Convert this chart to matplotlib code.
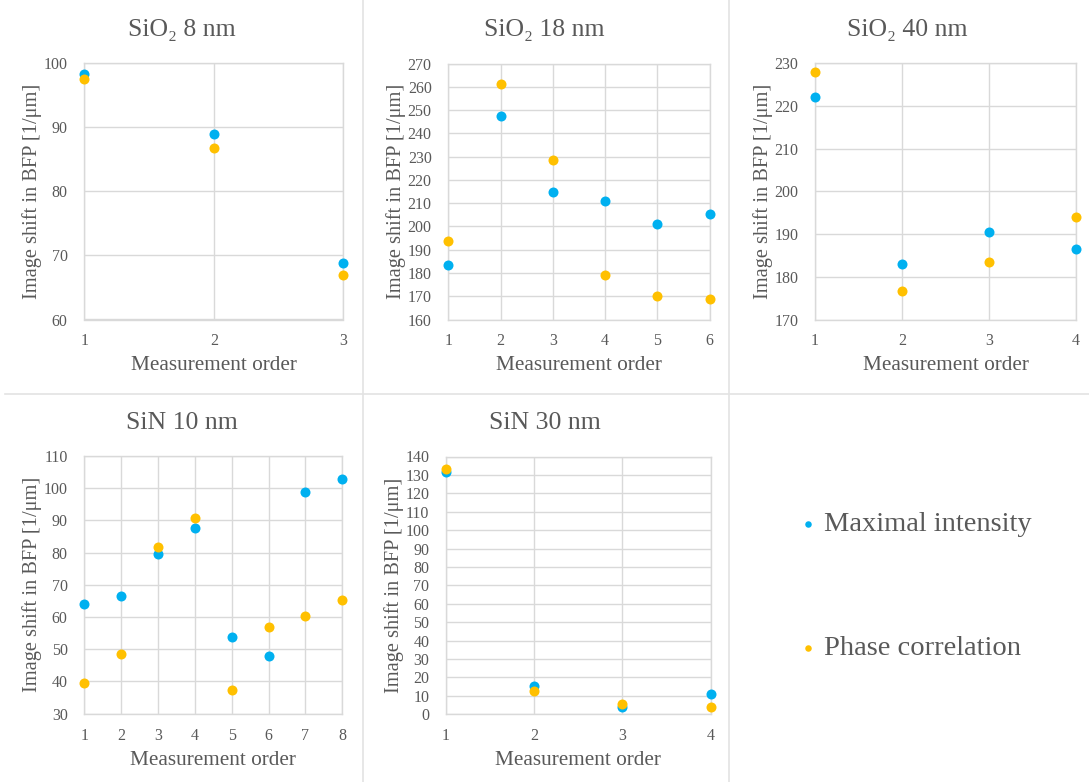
import matplotlib
matplotlib.use("Agg")
import matplotlib.pyplot as plt
from matplotlib.lines import Line2D

plt.rcParams['font.family'] = ['Liberation Serif', 'DejaVu Serif']

TEXT = '#595959'
GRID = '#D9D9D9'
BLUE = '#00B0F0'
GOLD = '#FFC000'

# Measurement series per sample
titles = ['SiO\u2082 8 nm', 'SiO\u2082 18 nm', 'SiO\u2082 40 nm', 'SiN 10 nm', 'SiN 30 nm']

sio2_8_max = [98.3, 89.0, 68.8]
sio2_8_phase = [97.6, 86.7, 66.9]

sio2_18_max = [183.6, 247.6, 214.8, 210.8, 201.2, 205.2]
sio2_18_phase = [193.8, 261.3, 228.5, 179.0, 170.0, 168.9]

sio2_40_max = [222.0, 183.1, 190.5, 186.5]
sio2_40_phase = [227.9, 176.6, 183.4, 193.9]

sin_10_max = [64.1, 66.4, 79.5, 87.7, 53.7, 48.0, 98.8, 103.0]
sin_10_phase = [39.4, 48.5, 81.9, 90.7, 37.4, 57.0, 60.3, 65.2]

sin_30_max = [131.5, 15.1, 4.0, 11.2]
sin_30_phase = [133.3, 12.4, 5.4, 4.1]

series_max = [sio2_8_max, sio2_18_max, sio2_40_max, sin_10_max, sin_30_max]
series_phase = [sio2_8_phase, sio2_18_phase, sio2_40_phase, sin_10_phase, sin_30_phase]

y_limits = [(60, 100), (160, 270), (170, 230), (30, 110), (0, 140)]
y_step = 10

legend_labels = ['Maximal intensity', 'Phase correlation']

W, H = 1089, 782
fig = plt.figure(figsize=(W / 100, H / 100), dpi=100)

# axes rectangles in pixels: left, right, top, bottom
boxes = [
    (84.3, 343.3, 63.3, 319.5),
    (448.3, 709.7, 63.5, 319.5),
    (815.0, 1076.0, 63.3, 319.5),
    (84.3, 342.3, 456.0, 713.7),
    (446.0, 710.7, 456.5, 714.3),
]
cell_centers = [181.5, 544.5, 907.5, 181.5, 544.5]
title_y = [30, 30, 30, 423, 423]

handles = []
for i, (l, r, t, b) in enumerate(boxes):
    ax = fig.add_axes([l / W, 1 - b / H, (r - l) / W, (b - t) / H])
    ym = series_max[i]
    yp = series_phase[i]
    x = list(range(1, len(ym) + 1))
    h1 = ax.scatter(x, ym, s=52, color=BLUE, zorder=3, clip_on=False, linewidths=0)
    h2 = ax.scatter(x, yp, s=52, color=GOLD, zorder=3, clip_on=False, linewidths=0)
    if i == 0:
        handles = [h1, h2]
    lo, hi = y_limits[i]
    ax.set_xlim(1, len(ym))
    ax.set_ylim(lo, hi)
    ax.set_xticks(x)
    ax.set_yticks(range(lo, hi + 1, y_step))
    ax.grid(True, color=GRID, linewidth=1.0)
    ax.set_axisbelow(True)
    for sp in ax.spines.values():
        sp.set_color(GRID)
        sp.set_linewidth(1.0)
    ax.tick_params(length=0, colors=TEXT, labelsize=11.5)
    ax.tick_params(axis='y', pad=12)
    ax.tick_params(axis='x', pad=10)
    ax.set_xlabel('Measurement order', color=TEXT, fontsize=15.3, labelpad=5)
    ax.set_ylabel('Image shift in BFP [1/\u03bcm]', color=TEXT, fontsize=14.7, labelpad=1)
    fig.text(cell_centers[i] / W, 1 - title_y[i] / H, titles[i], ha='center', va='center',
             color=TEXT, fontsize=18.5)

# panel separators
sep_kw = dict(color='#E3E3E3', linewidth=1.2, transform=fig.transFigure)
fig.add_artist(Line2D([362.7 / W, 362.7 / W], [0, 1], **sep_kw))
fig.add_artist(Line2D([729 / W, 729 / W], [0, 1], **sep_kw))
fig.add_artist(Line2D([5 / W, 1], [1 - 394 / H, 1 - 394 / H], **sep_kw))

leg = fig.legend(handles, legend_labels, loc='upper left',
                 bbox_to_anchor=(780 / W, 1 - 497 / H), frameon=False,
                 fontsize=20.5, labelcolor=TEXT, markerscale=0.65,
                 labelspacing=3.45, handletextpad=0.05, handlelength=1.0,
                 borderpad=0)

fig.savefig('out.png', dpi=100, facecolor='white')
